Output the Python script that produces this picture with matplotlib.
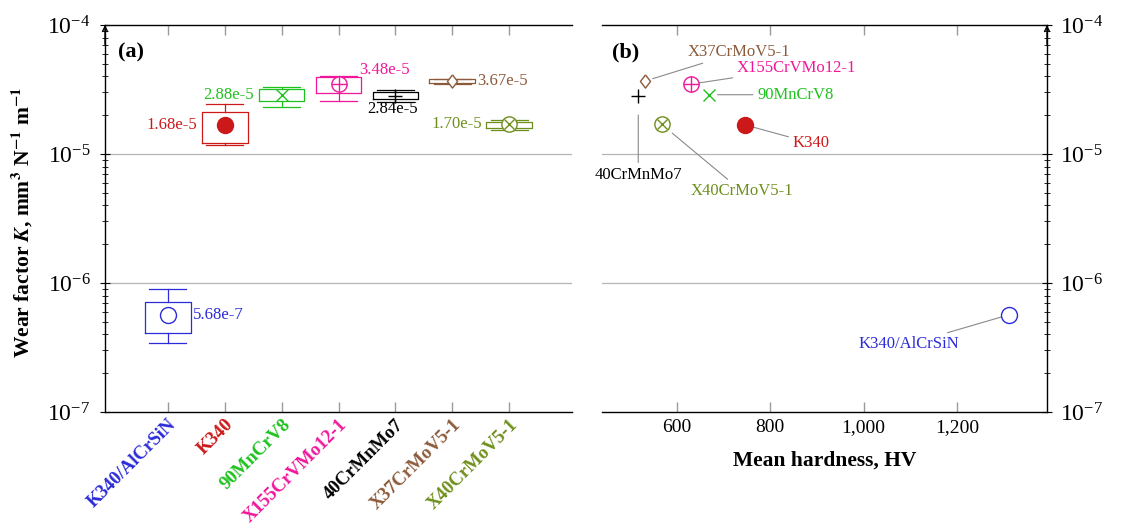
import matplotlib
matplotlib.use('Agg')
import matplotlib.pyplot as plt
import matplotlib.transforms as mtrans
from matplotlib.ticker import LogLocator, NullFormatter, FixedLocator, FixedFormatter

plt.rcParams['font.family'] = 'serif'
plt.rcParams['font.serif'] = ['Liberation Serif', 'DejaVu Serif']
plt.rcParams['mathtext.fontset'] = 'stix'

# ---------------- data ----------------
materials = ['K340/AlCrSiN', 'K340', '90MnCrV8', 'X155CrVMo12-1',
             '40CrMnMo7', 'X37CrMoV5-1', 'X40CrMoV5-1']
colors = ['#2b2bd9', '#cc1818', '#1ec21e', '#f0169a',
          '#000000', '#8b5a3a', '#6f8f1c']
k_mean = [5.68e-7, 1.68e-5, 2.88e-5, 3.48e-5, 2.84e-5, 3.67e-5, 1.70e-5]
k_q1 = [4.12e-7, 1.22e-5, 2.59e-5, 2.96e-5, 2.65e-5, 3.53e-5, 1.60e-5]
k_q3 = [7.16e-7, 2.13e-5, 3.17e-5, 3.98e-5, 3.01e-5, 3.79e-5, 1.78e-5]
k_low = [3.44e-7, 1.17e-5, 2.33e-5, 2.59e-5, 2.54e-5, 3.49e-5, 1.53e-5]
k_high = [9.04e-7, 2.45e-5, 3.32e-5, 4.00e-5, 3.15e-5, 3.83e-5, 1.84e-5]
value_labels = ['5.68e-7', '1.68e-5', '2.88e-5', '3.48e-5',
                '2.84e-5', '3.67e-5', '1.70e-5']
hardness = [1312, 746, 669, 630, 517, 531, 567]
hv_ticks = [600, 800, 1000, 1200]
hv_ticklabels = ['600', '800', '1,000', '1,200']
y_ticks = [1e-7, 1e-6, 1e-5, 1e-4]

# marker styles: (kind)
marker_kind = ['open', 'filled', 'x', 'oplus', 'plus', 'diamond', 'otimes']

# label placement in (a): offset (pt), ha
a_offsets = [(18, 0, 'left'), (-20, 0, 'right'), (-20, 0, 'right'),
             (15, 10, 'left'), (-2, -10, 'center'), (18, 0, 'left'),
             (-19.5, 0, 'right')]
# label placement in (b): offset (pt), shrink toward point
b_offsets = [(-72, -21, 5), (47.5, -13, 6), (62, 0, 6), (76, 11.5, 6),
             (0, -57, 14), (67.7, 21, 6), (57.6, -48, 10)]

diamond = [(0, 1), (0.77, 0), (0, -1), (-0.77, 0), (0, 1)]


def draw_marker(ax, x, y, kind, c):
    if kind == 'open':
        ax.plot([x], [y], 'o', ms=11.5, mfc='white', mec=c, mew=1.0, zorder=5)
    elif kind == 'filled':
        ax.plot([x], [y], 'o', ms=11.5, mfc=c, mec=c, zorder=5)
    elif kind == 'x':
        ax.plot([x], [y], 'x', ms=8, mec=c, mew=1.0, zorder=5)
    elif kind == 'plus':
        ax.plot([x], [y], '+', ms=10.5, mec=c, mew=1.0, zorder=5)
    elif kind == 'diamond':
        ax.plot([x], [y], marker=diamond, ms=9.5, mfc='white', mec=c,
                mew=1.0, zorder=5, linestyle='none')
    elif kind == 'oplus':
        ax.plot([x], [y], 'o', ms=11, mfc='white', mec=c, mew=1.0, zorder=5)
        ax.plot([x], [y], '+', ms=11, mec=c, mew=1.0, zorder=6)
    elif kind == 'otimes':
        ax.plot([x], [y], 'o', ms=11, mfc='white', mec=c, mew=1.0, zorder=5)
        ax.plot([x], [y], 'x', ms=7.8, mec=c, mew=1.0, zorder=6)


fig = plt.figure(figsize=(11.36, 5.29), dpi=100)
H = 529.0
W = 1136.0
bot = 1 - 412 / H
hgt = (412 - 25) / H
axa = fig.add_axes([105 / W, bot, (572 - 105) / W, hgt])
axb = fig.add_axes([602 / W, bot, (1047 - 602) / W, hgt])

grid_c = '#b5b5b5'
tick_gray = '#9a9a9a'

for ax in (axa, axb):
    ax.set_yscale('log')
    ax.set_ylim(1e-7, 1e-4)
    ax.yaxis.set_major_locator(FixedLocator(y_ticks))
    ax.yaxis.set_minor_locator(LogLocator(base=10, subs=range(2, 10)))
    ax.yaxis.set_minor_formatter(NullFormatter())
    for yv in y_ticks[1:-1]:
        ax.axhline(yv, color=grid_c, lw=0.9, zorder=0)
    for s in ax.spines.values():
        s.set_linewidth(1.0)

# ---------------- panel (a) ----------------
positions = list(range(1, len(materials) + 1))
stats = []
for i, m in enumerate(materials):
    stats.append(dict(med=k_mean[i], q1=k_q1[i], q3=k_q3[i],
                      whislo=k_low[i], whishi=k_high[i], fliers=[], label=m))
bp = axa.bxp(stats, positions=positions, widths=0.8, capwidths=0.65,
             showfliers=False, patch_artist=False,
             medianprops=dict(linestyle='none'),
             boxprops=dict(linewidth=0.9),
             whiskerprops=dict(linewidth=0.9),
             capprops=dict(linewidth=0.9), manage_ticks=False)
for i, c in enumerate(colors):
    bp['boxes'][i].set_color(c)
    for art in (bp['whiskers'][2 * i], bp['whiskers'][2 * i + 1],
                bp['caps'][2 * i], bp['caps'][2 * i + 1]):
        art.set_color(c)

for i, c in enumerate(colors):
    draw_marker(axa, positions[i], k_mean[i], marker_kind[i], c)
    dx, dy, ha = a_offsets[i]
    axa.annotate(value_labels[i], xy=(positions[i], k_mean[i]),
                 xytext=(dx, dy), textcoords='offset points',
                 ha=ha, va='center', color=c, fontsize=12)

axa.set_xlim(1 - 1.107, 7 + 1.107)
axa.set_xticks(positions)
axa.set_xticklabels(materials, rotation=45, ha='right', va='top',
                    rotation_mode='anchor', fontsize=13.5, fontweight='bold')
shift = mtrans.ScaledTranslation(-7 / 100, 0, fig.dpi_scale_trans)
for lab, c in zip(axa.get_xticklabels(), colors):
    lab.set_color(c)
    lab.set_transform(lab.get_transform() + shift)
axa.tick_params(axis='x', which='both', direction='in', length=7,
                color=tick_gray, top=True, bottom=True, pad=3, width=1.0)
axa.tick_params(axis='y', which='major', direction='inout', length=7,
                left=True, right=False, labelsize=17, pad=7)
axa.tick_params(axis='y', which='minor', direction='inout', length=5,
                left=True, right=False)
axa.spines['right'].set_visible(False)
axa.set_ylabel(r'Wear factor $\boldsymbol{K}$, mm$^{\mathbf{3}}$ N$^{\mathbf{-1}}$ m$^{\mathbf{-1}}$',
               fontsize=15.5, fontweight='bold')
axa.yaxis.set_label_coords(-0.15, 0.49)
axa.text(0.027, 0.955, '(a)', transform=axa.transAxes, fontsize=16,
         fontweight='bold', ha='left', va='top')
axa.annotate('', xy=(0, 1.0), xycoords='axes fraction', xytext=(0, 0.95),
             arrowprops=dict(arrowstyle='->', lw=1.0, color='black',
                             mutation_scale=9, shrinkA=0, shrinkB=0))

# ---------------- panel (b) ----------------
for i, c in enumerate(colors):
    draw_marker(axb, hardness[i], k_mean[i], marker_kind[i], c)
    dx, dy, shr = b_offsets[i]
    axb.annotate(materials[i], xy=(hardness[i], k_mean[i]),
                 xytext=(dx, dy), textcoords='offset points',
                 ha='center', va='center', color=c, fontsize=12,
                 arrowprops=dict(arrowstyle='-', color='#8a8a8a', lw=0.8,
                                 shrinkA=1, shrinkB=shr))

axb.set_xlim(439.3, 1392.9)
axb.xaxis.set_major_locator(FixedLocator(hv_ticks))
axb.xaxis.set_major_formatter(FixedFormatter(hv_ticklabels))
axb.tick_params(axis='x', which='both', direction='in', length=7,
                color=tick_gray, top=True, bottom=True, labelsize=14, pad=5,
                width=1.0)
axb.yaxis.tick_right()
axb.tick_params(axis='y', which='major', direction='inout', length=7,
                left=False, right=True, labelleft=False, labelright=True,
                labelsize=17, pad=6)
axb.tick_params(axis='y', which='minor', direction='inout', length=5,
                left=False, right=True)
axb.spines['left'].set_visible(False)
axb.set_xlabel('Mean hardness, HV', fontsize=15.5, fontweight='bold')
axb.xaxis.set_label_coords(0.5, -0.10)
axb.xaxis.label.set_va('top')
axb.text(0.022, 0.955, '(b)', transform=axb.transAxes, fontsize=16,
         fontweight='bold', ha='left', va='top')
axb.annotate('', xy=(1, 1.0), xycoords='axes fraction', xytext=(1, 0.95),
             arrowprops=dict(arrowstyle='->', lw=1.0, color='black',
                             mutation_scale=9, shrinkA=0, shrinkB=0))

fig.savefig('out.png', dpi=100)
